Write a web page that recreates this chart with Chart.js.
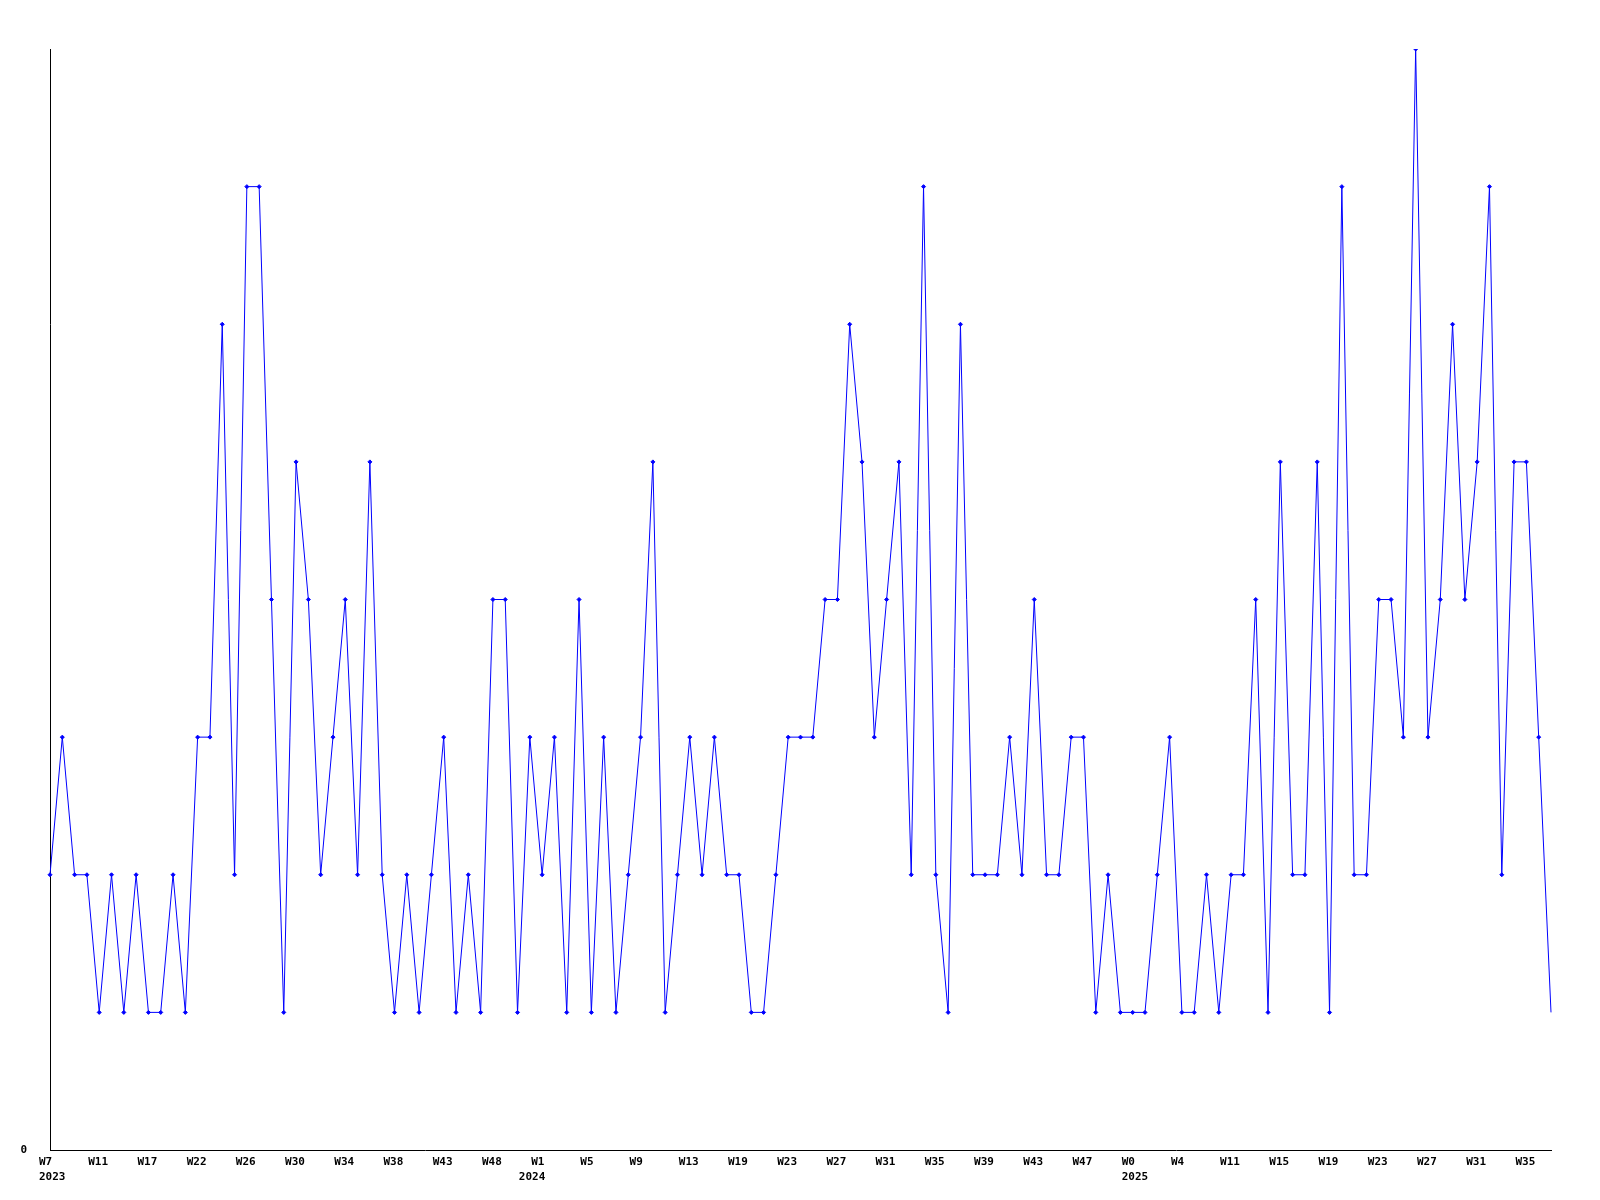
<!DOCTYPE html>
<html>
<head>
<meta charset="utf-8">
<script src="https://cdn.jsdelivr.net/npm/chart.js@4/dist/chart.umd.min.js"></script>
<style>
  html, body { margin: 0; padding: 0; background: #ffffff; }
  #wrap { width: 1600px; height: 1200px; }
</style>
</head>
<body>
<div id="wrap"><canvas id="c" width="1600" height="1200"></canvas></div>
<script>
// Weekly values (one per point)
const values = [
  2,3,2,2,1,2,1,2,1,1,2,1,3,3,6,2,7,7,4,1,
  5,4,2,3,4,2,5,2,1,2,1,2,3,1,2,1,4,4,1,3,
  2,3,1,4,1,3,1,2,3,5,1,2,3,2,3,2,2,1,1,2,
  3,3,3,4,4,6,5,3,4,5,2,7,2,1,6,2,2,2,3,2,
  4,2,2,3,3,1,2,1,1,1,2,3,1,1,2,1,2,2,4,1,
  5,2,2,5,1,7,2,2,4,4,3,8,3,4,6,4,5,7,2,5,
  5,3,1
];
// Week tick labels, shown on every 4th point
const tickLabels = ['W7','W11','W17','W22','W26','W30','W34','W38','W43','W48',
  'W1','W5','W9','W13','W19','W23','W27','W31','W35','W39',
  'W43','W47','W0','W4','W11','W15','W19','W23','W27','W31','W35'];
// Year labels (second line) and the point they sit under
const yearLabels = ['2023', '2024', '2025'];
const yearIndex = [0, 39, 88];
const tickEvery = 4;
const categories = values.map((v, i) => i);

const FONT = { family: 'DejaVu Sans Mono', size: 11, weight: 'bold', lineHeight: '15px' };

new Chart(document.getElementById('c'), {
  type: 'line',
  data: {
    labels: categories,
    datasets: [{
      data: values,
      borderColor: '#0000ff',
      backgroundColor: '#0000ff',
      borderWidth: 1,
      fill: false,
      tension: 0,
      pointStyle: 'rectRot',
      pointRadius: (ctx) => ctx.dataIndex === values.length - 1 ? 0 : 2,
      pointBorderWidth: 1,
      pointBorderColor: '#0000ff',
      pointBackgroundColor: '#0000ff'
    }]
  },
  options: {
    responsive: false,
    animation: false,
    devicePixelRatio: 1,
    layout: { padding: { top: 49, right: 49, left: 0, bottom: 0 } },
    plugins: { legend: { display: false }, tooltip: { enabled: false }, title: { display: false } },
    scales: {
      x: {
        type: 'category',
        offset: false,
        grid: { display: false, drawTicks: false },
        border: { display: true, color: '#000000', width: 1 },
        ticks: {
          autoSkip: false,
          maxRotation: 0,
          minRotation: 0,
          align: 'start',
          labelOffset: -11,
          padding: 5,
          color: '#000000',
          font: FONT,
          callback: function (value, index) {
            let week = '';
            if (index % tickEvery === 0 && index / tickEvery < tickLabels.length) {
              week = tickLabels[index / tickEvery];
            }
            const y = yearIndex.indexOf(index);
            if (y >= 0) return [week, yearLabels[y]];
            return week;
          }
        },
        afterFit: (scale) => { scale.height = 50; }
      },
      y: {
        min: 0,
        max: 8,
        grid: { display: false, drawTicks: false },
        border: { display: true, color: '#000000', width: 1 },
        ticks: {
          stepSize: 8,
          padding: 23,
          color: '#000000',
          font: FONT,
          callback: (v) => v === 0 ? '0' : ''
        },
        afterFit: (scale) => { scale.width = 50; }
      }
    }
  }
});
</script>
</body>
</html>
